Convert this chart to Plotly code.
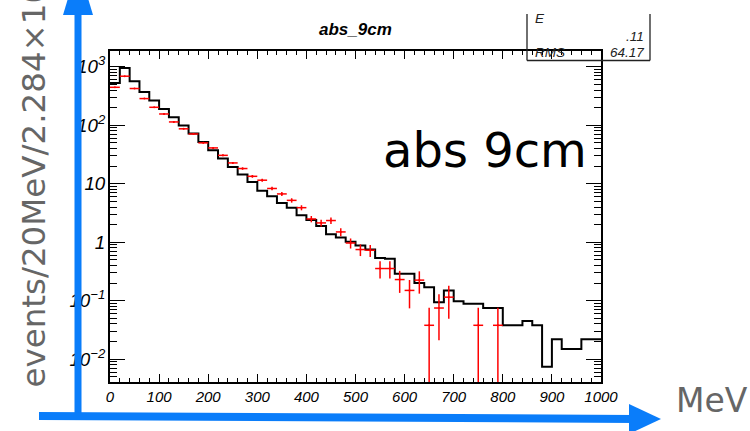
import plotly.graph_objects as go

# 20 MeV bins from 0 to 1000 MeV
bin_width = 20
bin_edges = [i * bin_width for i in range(51)]

# simulated spectrum (black histogram), per bin
mc_counts = [530, 955, 565, 370, 265, 190, 137, 99, 72, 52,
             37.5, 27, 19.4, 14.4, 10.7, 7.6, 6.1, 4.7, 3.9, 2.9,
             2.4, 1.9, 1.37, 1.2, 1.02, 0.88, 0.75, 0.54, 0.52, 0.29,
             0.29, 0.20, 0.17, 0.094, 0.15, 0.098, 0.089, 0.089, 0.075, 0.075,
             0.038, 0.038, 0.045, 0.038, 0.0074, 0.022, 0.015, 0.015, 0.022, 0.022]

# measured spectrum (red points); None = empty bin
data_counts = [446, 690, 425, 286, 203, 156, 114, 87, 71, 50,
               41, 30.6, 22.7, 18.2, 13.4, 11.5, 8.3, 6.7, 5.2, 3.9,
               2.5, 2.14, 2.35, 1.5, 0.97, 0.75, 0.73, 0.355, 0.355, 0.23,
               0.15, 0.225, 0.038, 0.075, 0.115, None, None, 0.038, None, 0.038,
               None, None, None, None, None, None, None, None, None, None]

data_errors = [4.13, 5.13, 4.03, 3.31, 2.78, 2.44, 2.09, 1.82, 1.65, 1.38,
               1.25, 1.08, 0.93, 0.83, 0.72, 0.66, 0.56, 0.51, 0.45, 0.39,
               0.31, 0.29, 0.30, 0.24, 0.19, 0.17, 0.17, 0.116, 0.116, 0.094,
               0.076, 0.093, 0.038, 0.054, 0.066, None, None, 0.038, None, 0.038,
               None, None, None, None, None, None, None, None, None, None]

x_tickvals = list(range(0, 1001, 100))
hist_title = "abs_9cm"
big_label = "abs 9cm"
y_label = "events/20MeV/2.284×10"
x_label = "MeV"
stats_rows = [("RMS", "64.17")]

W, H = 750, 431
L, R, T, B = 110, 601, 51, 382   # plot frame in pixels


def px(xp):
    return (xp - L) / (R - L)


def py(yp):
    return (B - yp) / (B - T)


fig = go.Figure()

# black step histogram
step_x = bin_edges
step_y = mc_counts + [mc_counts[-1]]
fig.add_trace(go.Scatter(
    x=step_x, y=step_y, mode="lines", line=dict(color="black", width=2, shape="hv"),
    hoverinfo="skip", showlegend=False))

# red data points with bin-width horizontal bars and statistical errors
centers, vals, errs = [], [], []
for i, (v, e) in enumerate(zip(data_counts, data_errors)):
    if v is None:
        continue
    centers.append(bin_edges[i] + bin_width / 2)
    vals.append(v)
    errs.append(e)

fig.add_trace(go.Scatter(
    x=centers, y=vals, mode="markers",
    marker=dict(color="red", size=2),
    error_x=dict(type="constant", value=bin_width / 2, color="red", thickness=1.5, width=0),
    error_y=dict(type="data", array=errs, arrayminus=errs, color="red", thickness=1.5, width=0),
    showlegend=False, hoverinfo="skip"))

tickfont = dict(family="Liberation Sans", size=15, color="black", style="italic")

fig.update_xaxes(
    range=[0, 1000], tickvals=x_tickvals, ticks="inside", ticklen=8, tickwidth=1,
    minor=dict(dtick=20, ticks="inside", ticklen=4, tickwidth=1, tickcolor="black"),
    showline=True, linecolor="black", linewidth=1.5, mirror="allticks",
    showgrid=False, zeroline=False, tickfont=tickfont, tickcolor="black")

fig.update_yaxes(
    type="log", range=[-2.39, 3.27], dtick=1, exponentformat="power",
    ticks="inside", ticklen=15, tickwidth=1, tickcolor="black",
    minor=dict(dtick="D1", ticks="inside", ticklen=7, tickwidth=1, tickcolor="black"),
    showline=True, linecolor="black", linewidth=1.5, mirror="allticks",
    showgrid=False, zeroline=False, tickfont=tickfont)

blue = "rgb(10,125,250)"
shapes = []
# vertical arrow
shapes.append(dict(type="path", xref="paper", yref="paper",
                   path=f"M {px(74.5)},{py(419)} L {px(81.5)},{py(419)} L {px(81.5)},{py(10)} "
                        f"L {px(74.5)},{py(10)} Z",
                   fillcolor=blue, line=dict(width=0), layer="above"))
shapes.append(dict(type="path", xref="paper", yref="paper",
                   path=f"M {px(63)},{py(15)} L {px(93)},{py(15)} L {px(78)},{py(-35)} Z",
                   fillcolor=blue, line=dict(width=0), layer="above"))
# horizontal arrow
shapes.append(dict(type="path", xref="paper", yref="paper",
                   path=f"M {px(39)},{py(412)} L {px(635)},{py(415)} L {px(635)},{py(423)} "
                        f"L {px(39)},{py(420)} Z",
                   fillcolor=blue, line=dict(width=0), layer="above"))
shapes.append(dict(type="path", xref="paper", yref="paper",
                   path=f"M {px(629)},{py(404)} L {px(661)},{py(419)} L {px(629)},{py(434)} Z",
                   fillcolor=blue, line=dict(width=0), layer="above"))
# statistics box outline
for x0, y0, x1, y1 in [(527, 14, 527, 60.5), (650, 14, 650, 60.5), (527, 60.5, 650, 60.5)]:
    shapes.append(dict(type="line", xref="paper", yref="paper",
                       x0=px(x0), y0=py(y0), x1=px(x1), y1=py(y1),
                       line=dict(color="#222", width=1.3)))

stat_font = dict(family="Liberation Sans", size=13.5, color="#222", style="italic")
annotations = [
    dict(text=hist_title, x=px(355), y=py(29), xref="paper", yref="paper", showarrow=False,
         xanchor="center", yanchor="middle",
         font=dict(family="Liberation Sans", size=17, color="black", weight="bold", style="italic")),
    dict(text=big_label, x=px(381), y=py(150), xref="paper", yref="paper", showarrow=False,
         xanchor="left", yanchor="middle",
         font=dict(family="DejaVu Sans", size=48, color="black")),
    dict(text=y_label, x=px(33), y=py(390), xref="paper", yref="paper", showarrow=False,
         textangle=-90, xanchor="center", yanchor="bottom",
         font=dict(family="DejaVu Sans", size=32.5, color="#666666")),
    dict(text=x_label, x=px(712), y=py(400), xref="paper", yref="paper", showarrow=False,
         xanchor="center", yanchor="middle",
         font=dict(family="DejaVu Sans", size=33, color="#666666")),
    dict(text="E", x=px(533), y=py(19), xref="paper", yref="paper", showarrow=False,
         xanchor="left", yanchor="middle", font=stat_font),
    dict(text=".11", x=px(646), y=py(36.5), xref="paper", yref="paper", showarrow=False,
         xanchor="right", yanchor="middle", font=stat_font),
]
for name, val in stats_rows:
    annotations.append(dict(text=name, x=px(533), y=py(52.5), xref="paper", yref="paper",
                            showarrow=False, xanchor="left", yanchor="middle", font=stat_font))
    annotations.append(dict(text=val, x=px(646), y=py(52.5), xref="paper", yref="paper",
                            showarrow=False, xanchor="right", yanchor="middle", font=stat_font))

fig.update_layout(
    width=W, height=H,
    margin=dict(l=L, r=W - R, t=T, b=H - B, pad=0),
    paper_bgcolor="white", plot_bgcolor="white",
    shapes=shapes, annotations=annotations,
)

fig.write_html("out.html")
